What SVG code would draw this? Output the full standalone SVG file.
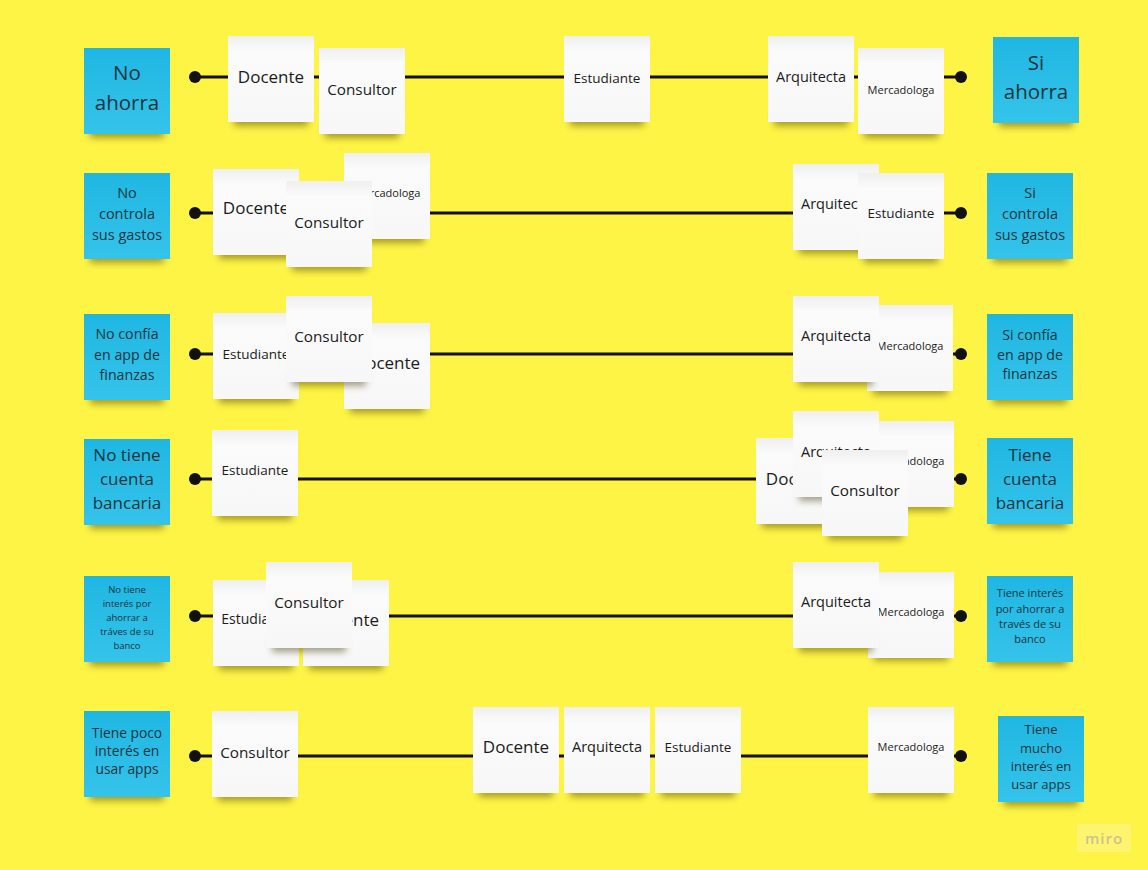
<svg xmlns="http://www.w3.org/2000/svg" width="1148" height="870" viewBox="0 0 1148 870">
<defs>
<linearGradient id="gw" x1="0" y1="0" x2="0" y2="1">
<stop offset="0" stop-color="#efefef"/><stop offset="0.18" stop-color="#fbfbfb"/><stop offset="1" stop-color="#f7f7f7"/>
</linearGradient>
<linearGradient id="gb" x1="0" y1="0" x2="0" y2="1">
<stop offset="0" stop-color="#1fb7e2"/><stop offset="1" stop-color="#35c3ea"/>
</linearGradient>
<filter id="blur" x="-20%" y="-100%" width="140%" height="300%"><feGaussianBlur stdDeviation="3.5"/></filter>
<clipPath id="c5doc"><rect x="352" y="600" width="40" height="40"/></clipPath>
</defs>
<style>
.sh{fill:#3a3000;opacity:.45;filter:url(#blur)}
.w{fill:url(#gw)}
.b{fill:url(#gb)}
text{font-family:"Open Sans","Noto Sans","Liberation Sans",sans-serif;text-anchor:middle;fill:#1c1c1c}
.bt{fill:#173540}
.ln{stroke:#111;stroke-width:3;fill:none}
.dot{fill:#111}
</style>
<rect width="1148" height="870" fill="#fef446"/>

<g id="connectors">
<line class="ln" x1="195" y1="77" x2="961" y2="77"/><circle class="dot" cx="195" cy="77" r="6"/><circle class="dot" cx="961" cy="77" r="6"/>
<line class="ln" x1="195" y1="213" x2="961" y2="213"/><circle class="dot" cx="195" cy="213" r="6"/><circle class="dot" cx="961" cy="213" r="6"/>
<line class="ln" x1="195" y1="354" x2="961" y2="354"/><circle class="dot" cx="195" cy="354" r="6"/><circle class="dot" cx="961" cy="354" r="6"/>
<line class="ln" x1="195" y1="479" x2="961" y2="479"/><circle class="dot" cx="195" cy="479" r="6"/><circle class="dot" cx="961" cy="479" r="6"/>
<line class="ln" x1="195" y1="616" x2="961" y2="616"/><circle class="dot" cx="195" cy="616" r="6"/><circle class="dot" cx="961" cy="616" r="6"/>
<line class="ln" x1="195" y1="756" x2="961" y2="756"/><circle class="dot" cx="195" cy="756" r="6"/><circle class="dot" cx="961" cy="756" r="6"/>
</g>

<!-- Row 1 -->
<g id="r1-no-ahorra"><rect class="sh" x="90" y="122" width="74" height="16"/><rect class="b" x="84" y="48" width="86" height="86"/><text class="bt" font-size="20.5"><tspan x="127" y="80">No</tspan><tspan x="127" y="110">ahorra</tspan></text></g>
<g id="r1-docente"><rect class="sh" x="234" y="110" width="74" height="16"/><rect class="w" x="228" y="36" width="86" height="86"/><text x="271" y="83" font-size="17">Docente</text></g>
<g id="r1-consultor"><rect class="sh" x="325" y="122" width="74" height="16"/><rect class="w" x="319" y="48" width="86" height="86"/><text x="362" y="94.5" font-size="15.3">Consultor</text></g>
<g id="r1-estudiante"><rect class="sh" x="570" y="110" width="74" height="16"/><rect class="w" x="564" y="36" width="86" height="86"/><text x="607" y="83" font-size="13.5">Estudiante</text></g>
<g id="r1-arquitecta"><rect class="sh" x="774" y="110" width="74" height="16"/><rect class="w" x="768" y="36" width="86" height="86"/><text x="811" y="82" font-size="14.5">Arquitecta</text></g>
<g id="r1-mercadologa"><rect class="sh" x="864" y="122" width="74" height="16"/><rect class="w" x="858" y="48" width="86" height="86"/><text x="901" y="94" font-size="11">Mercadologa</text></g>
<g id="r1-si-ahorra"><rect class="sh" x="999" y="111" width="74" height="16"/><rect class="b" x="993" y="37" width="86" height="86"/><text class="bt" font-size="20.5"><tspan x="1036" y="70">Si</tspan><tspan x="1036" y="99">ahorra</tspan></text></g>

<!-- Row 2 -->
<g id="r2-no-controla"><rect class="sh" x="90" y="247" width="74" height="16"/><rect class="b" x="84" y="173" width="86" height="86"/><text class="bt" font-size="14.5"><tspan x="127" y="198">No</tspan><tspan x="127" y="219">controla</tspan><tspan x="127" y="240">sus gastos</tspan></text></g>
<g id="r2-docente"><rect class="sh" x="219" y="243" width="74" height="16"/><rect class="w" x="213" y="169" width="86" height="86"/><text x="256" y="214" font-size="17">Docente</text></g>
<g id="r2-mercadologa"><rect class="sh" x="350" y="227" width="74" height="16"/><rect class="w" x="344" y="153" width="86" height="86"/><text x="387" y="197" font-size="11">Mercadologa</text></g>
<g id="r2-consultor"><rect class="sh" x="292" y="255" width="74" height="16"/><rect class="w" x="286" y="181" width="86" height="86"/><text x="329" y="227.5" font-size="15.3">Consultor</text></g>
<g id="r2-arquitecta"><rect class="sh" x="799" y="238" width="74" height="16"/><rect class="w" x="793" y="164" width="86" height="86"/><text x="836" y="209" font-size="14.5">Arquitecta</text></g>
<g id="r2-estudiante"><rect class="sh" x="864" y="247" width="74" height="16"/><rect class="w" x="858" y="173" width="86" height="86"/><text x="901" y="218" font-size="13.5">Estudiante</text></g>
<g id="r2-si-controla"><rect class="sh" x="993" y="247" width="74" height="16"/><rect class="b" x="987" y="173" width="86" height="86"/><text class="bt" font-size="14.5"><tspan x="1030" y="198">Si</tspan><tspan x="1030" y="219">controla</tspan><tspan x="1030" y="240">sus gastos</tspan></text></g>

<!-- Row 3 -->
<g id="r3-no-confia"><rect class="sh" x="90" y="388" width="74" height="16"/><rect class="b" x="84" y="314" width="86" height="86"/><text class="bt" font-size="14.2"><tspan x="127" y="339">No confía</tspan><tspan x="127" y="360">en app de</tspan><tspan x="127" y="380">finanzas</tspan></text></g>
<g id="r3-estudiante"><rect class="sh" x="219" y="387" width="74" height="16"/><rect class="w" x="213" y="313" width="86" height="86"/><text x="256" y="359" font-size="13.5">Estudiante</text></g>
<g id="r3-docente"><rect class="sh" x="350" y="397" width="74" height="16"/><rect class="w" x="344" y="323" width="86" height="86"/><text x="387" y="369" font-size="17">Docente</text></g>
<g id="r3-consultor"><rect class="sh" x="292" y="370" width="74" height="16"/><rect class="w" x="286" y="296" width="86" height="86"/><text x="329" y="341.5" font-size="15.3">Consultor</text></g>
<g id="r3-mercadologa"><rect class="sh" x="873" y="379" width="74" height="16"/><rect class="w" x="867" y="305" width="86" height="86"/><text x="910" y="350" font-size="11">Mercadologa</text></g>
<g id="r3-arquitecta"><rect class="sh" x="799" y="370" width="74" height="16"/><rect class="w" x="793" y="296" width="86" height="86"/><text x="836" y="341" font-size="14.5">Arquitecta</text></g>
<g id="r3-si-confia"><rect class="sh" x="993" y="388" width="74" height="16"/><rect class="b" x="987" y="314" width="86" height="86"/><text class="bt" font-size="14.2"><tspan x="1030" y="340">Si confía</tspan><tspan x="1030" y="360">en app de</tspan><tspan x="1030" y="379">finanzas</tspan></text></g>

<!-- Row 4 -->
<g id="r4-no-tiene-cuenta"><rect class="sh" x="90" y="513" width="74" height="16"/><rect class="b" x="84" y="439" width="86" height="86"/><text class="bt" font-size="17"><tspan x="127" y="461">No tiene</tspan><tspan x="127" y="485">cuenta</tspan><tspan x="127" y="509">bancaria</tspan></text></g>
<g id="r4-estudiante"><rect class="sh" x="218" y="504" width="74" height="16"/><rect class="w" x="212" y="430" width="86" height="86"/><text x="255" y="475" font-size="13.5">Estudiante</text></g>
<g id="r4-docente"><rect class="sh" x="762" y="512" width="74" height="16"/><rect class="w" x="756" y="438" width="86" height="86"/><text x="799" y="485" font-size="17">Docente</text></g>
<g id="r4-mercadologa"><rect class="sh" x="874" y="495" width="74" height="16"/><rect class="w" x="868" y="421" width="86" height="86"/><text x="911" y="465" font-size="11">Mercadologa</text></g>
<g id="r4-arquitecta"><rect class="sh" x="799" y="485" width="74" height="16"/><rect class="w" x="793" y="411" width="86" height="86"/><text x="836" y="457" font-size="14.5">Arquitecta</text></g>
<g id="r4-consultor"><rect class="sh" x="828" y="524" width="74" height="16"/><rect class="w" x="822" y="450" width="86" height="86"/><text x="865" y="495.5" font-size="15.3">Consultor</text></g>
<g id="r4-tiene-cuenta"><rect class="sh" x="993" y="512" width="74" height="16"/><rect class="b" x="987" y="438" width="86" height="86"/><text class="bt" font-size="17"><tspan x="1030" y="461">Tiene</tspan><tspan x="1030" y="485">cuenta</tspan><tspan x="1030" y="509">bancaria</tspan></text></g>

<!-- Row 5 -->
<g id="r5-no-tiene-interes"><rect class="sh" x="90" y="650" width="74" height="16"/><rect class="b" x="84" y="576" width="86" height="86"/><text class="bt" font-size="9.5"><tspan x="127" y="592.5">No tiene</tspan><tspan x="127" y="606.5">interés por</tspan><tspan x="127" y="620.5">ahorrar a</tspan><tspan x="127" y="634.5">tráves de su</tspan><tspan x="127" y="648.5">banco</tspan></text></g>
<g id="r5-estudiante"><rect class="sh" x="219" y="654" width="74" height="16"/><rect class="w" x="213" y="580" width="86" height="86"/><text x="256" y="624" font-size="14">Estudiante</text></g>
<g id="r5-docente"><rect class="sh" x="309" y="654" width="74" height="16"/><rect class="w" x="303" y="580" width="86" height="86"/><text x="346" y="625.5" font-size="17">Docente</text></g>
<g id="r5-consultor"><rect class="sh" x="272" y="636" width="74" height="16"/><rect class="w" x="266" y="562" width="86" height="86"/><text x="309" y="607.5" font-size="15.3">Consultor</text></g>
<g id="r5-mercadologa"><rect class="sh" x="874" y="645" width="74" height="16"/><rect class="w" x="868" y="572" width="86" height="86"/><text x="911" y="616" font-size="11">Mercadologa</text></g>
<g id="r5-arquitecta"><rect class="sh" x="799" y="636" width="74" height="16"/><rect class="w" x="793" y="562" width="86" height="86"/><text x="836" y="607" font-size="14.5">Arquitecta</text></g>
<g id="r5-tiene-interes"><rect class="sh" x="993" y="650" width="74" height="16"/><rect class="b" x="987" y="576" width="86" height="86"/><text class="bt" font-size="11"><tspan x="1030" y="597">Tiene interés</tspan><tspan x="1030" y="612.5">por ahorrar a</tspan><tspan x="1030" y="628">través de su</tspan><tspan x="1030" y="643">banco</tspan></text></g>

<!-- Row 6 -->
<g id="r6-poco-interes"><rect class="sh" x="90" y="785" width="74" height="16"/><rect class="b" x="84" y="711" width="86" height="86"/><text class="bt" font-size="13.8"><tspan x="127" y="738">Tiene poco</tspan><tspan x="127" y="756">interés en</tspan><tspan x="127" y="774">usar apps</tspan></text></g>
<g id="r6-consultor"><rect class="sh" x="218" y="785" width="74" height="16"/><rect class="w" x="212" y="711" width="86" height="86"/><text x="255" y="757.5" font-size="15.3">Consultor</text></g>
<g id="r6-docente"><rect class="sh" x="479" y="781" width="74" height="16"/><rect class="w" x="473" y="707" width="86" height="86"/><text x="516" y="753" font-size="17">Docente</text></g>
<g id="r6-arquitecta"><rect class="sh" x="570" y="781" width="74" height="16"/><rect class="w" x="564" y="707" width="86" height="86"/><text x="607" y="752" font-size="14.5">Arquitecta</text></g>
<g id="r6-estudiante"><rect class="sh" x="661" y="781" width="74" height="16"/><rect class="w" x="655" y="707" width="86" height="86"/><text x="698" y="752" font-size="13.5">Estudiante</text></g>
<g id="r6-mercadologa"><rect class="sh" x="874" y="781" width="74" height="16"/><rect class="w" x="868" y="707" width="86" height="86"/><text x="911" y="751" font-size="11">Mercadologa</text></g>
<g id="r6-mucho-interes"><rect class="sh" x="1004" y="790" width="74" height="16"/><rect class="b" x="998" y="716" width="86" height="86"/><text class="bt" font-size="13"><tspan x="1041" y="733.5">Tiene</tspan><tspan x="1041" y="752.5">mucho</tspan><tspan x="1041" y="770.5">interés en</tspan><tspan x="1041" y="788.5">usar apps</tspan></text></g>

<g id="miro-logo"><rect x="1077" y="824" width="54" height="28" rx="2" fill="#fff470"/><text x="1104" y="844" font-size="15" font-weight="600" style="fill:#cbc391;letter-spacing:1px">miro</text></g>
</svg>
